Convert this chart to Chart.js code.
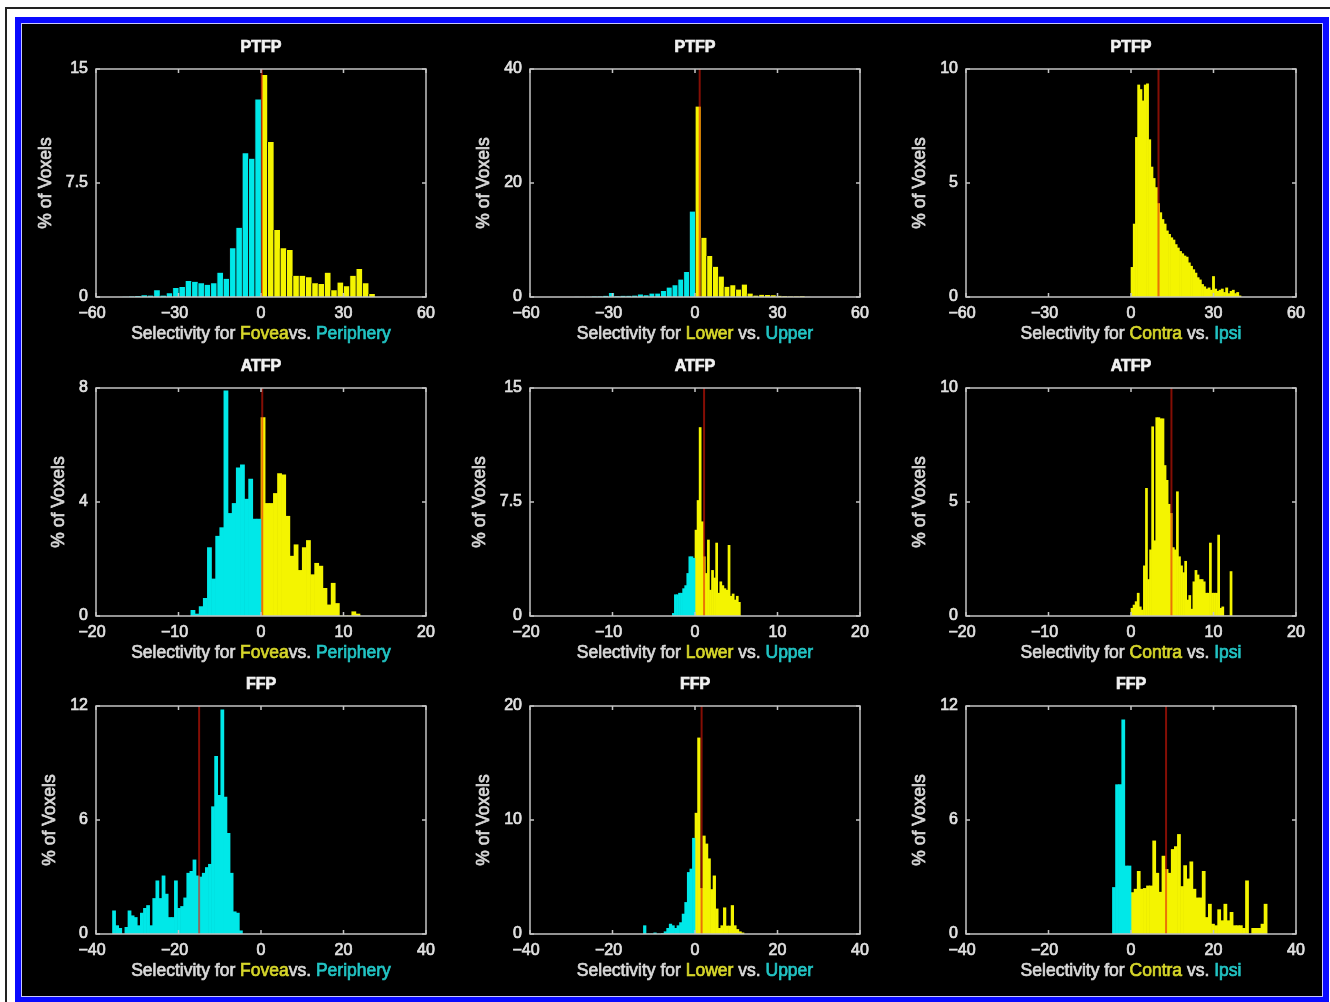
<!DOCTYPE html>
<html>
<head>
<meta charset="utf-8">
<title>Selectivity histograms</title>
<script src="https://cdn.jsdelivr.net/npm/chart.js@4.4.1/dist/chart.umd.min.js"></script>
<style>
  html, body { margin: 0; padding: 0; background: #fff; }
  #page { position: relative; width: 1330px; height: 1002px; overflow: hidden; background: #fff; }
  #rule { position: absolute; left: 5px; top: 7px; width: 1400px; height: 1100px; border: 2px solid #222; }
  #frame { position: absolute; left: 15px; top: 17px; width: 1302px; height: 974px;
           border: 6px solid #0a0aff; background: #000; box-shadow: inset 0 0 0 1px #c8c8ff; }
  canvas { position: absolute; }
</style>
</head>
<body>
<div id="page">
  <div id="rule"></div>
  <div id="frame"></div>
</div>
<script>
// ---- histogram heights (% of voxels), left to right ----
const ptfpFovea  = [0.02, 0.04, 0.07, 0.12, 0.1, 0.45, 0.1, 0.25, 0.6, 0.65, 1.05, 1.0, 0.9, 0.8, 0.9, 1.6, 1.2, 3.2, 4.55, 9.45, 9.1, 13.0,
                    14.6, 10.2, 4.4, 3.2, 3.1, 1.4, 1.4, 1.3, 0.9, 0.85, 1.6, 0.45, 0.95, 0.7, 1.4, 1.85, 0.9, 0.2];
const ptfpLower  = [0.03, 0.05, 0.05, 0.1, 0.1, 0.2, 0.7, 0.15, 0.2, 0.2, 0.25, 0.45, 0.3, 0.6, 0.6, 1.05, 1.65, 2.05, 3.05, 4.4, 15.0,
                    33.4, 10.4, 7.2, 5.3, 3.6, 1.8, 2.05, 1.3, 2.2, 0.6, 0.25, 0.4, 0.35, 0.3, 0.2, 0.15, 0.1, 0.1, 0.15, 0.05];
const ptfpContra = [1.3, 3.2, 7.0, 9.3, 9.1, 8.6, 9.3, 9.35, 6.9, 5.7, 5.2, 4.8, 4.1, 3.7, 3.4, 3.2, 2.9, 2.75, 2.6, 2.5,
                    2.3, 2.15, 2.0, 1.9, 1.8, 1.75, 1.5, 1.35, 1.2, 1.05, 0.85, 0.75, 0.55, 0.45, 0.35, 0.4, 0.3, 0.9, 0.35, 0.25,
                    0.3, 0.35, 0.2, 0.4, 0.15, 0.25, 0.3, 0.15, 0.2, 0.05];
const atfpFovea  = [0.2, 0.07, 0.33, 0.62, 2.4, 1.3, 2.8, 3.1, 7.9, 3.6, 3.95, 5.2, 5.3, 4.1, 4.8, 3.4, 3.4,
                    6.96, 3.95, 3.95, 4.3, 5.0, 4.95, 3.5, 2.1, 2.5, 1.6, 2.4, 2.65, 1.45, 1.85, 1.75, 0.97, 0.39, 1.15, 0.44,
                    0, 0, 0, 0.15, 0.07];
const atfpLower  = [0.17, 1.4, 1.4, 1.5, 1.5, 1.8, 2.0, 2.8, 3.9, 3.9, 3.8,
                    5.65, 7.6, 12.4, 6.2, 3.9, 2.8, 5.0, 1.7, 3.0, 2.5, 4.8, 1.5, 2.25, 2.0, 1.8, 1.7, 4.65, 1.3, 1.45, 1.05, 1.3, 0.9];
const atfpContra = [0.34, 0.48, 0.63, 1.0, 0.4, 0.26, 2.2, 5.6, 1.6, 2.9, 8.3, 3.3, 8.7, 8.7, 8.65, 8.65, 6.6, 5.95, 4.9, 4.5,
                    3.0, 2.9, 5.45, 2.6, 2.2, 1.9, 2.4, 0.7, 0.9, 0.3, 1.5, 2.0, 1.8, 1.6, 1.6, 1.5, 1.0, 1.0, 3.2, 1.0,
                    1.0, 1.0, 3.55, 0.34, 0.4, 0, 0, 0, 1.95];
const ffpFovea   = [1.22, 0.44, 0.3, 0, 0.35, 1.22, 0.96, 0.87, 0.44, 1.1, 1.35, 1.5, 0.44, 1.87, 2.8, 1.87, 3.06, 2.1, 0.87, 0.87,
                    2.8, 1.35, 1.45, 1.9, 3.2, 3.3, 3.9, 3.06, 3.0, 3.2, 3.5, 3.67, 6.7, 9.35, 7.3, 11.8, 7.2, 5.3, 3.2, 1.17,
                    1.1, 0.17];
const ffpLower   = [0.73, 0, 0, 0, 0.1, 0, 0, 0.05, 0.2, 0.5, 0.87, 0.73, 0.5, 0.73, 1.0, 1.75, 2.77, 5.4, 5.7, 8.4,
                    10.6, 17.2, 4.0, 8.6, 7.9, 6.6, 3.9, 5.1, 2.2, 0.5, 0.73, 2.3, 0.7, 0.7, 2.5, 0.73, 0.4, 0.2, 0.1];
const ffpContra  = [2.45, 7.86, 7.86, 11.27, 3.58, 3.58,
                    2.18, 2.36, 3.3, 2.36, 2.4, 2.53, 2.53, 4.9, 3.2, 2.2, 4.1, 3.4, 3.2, 4.45, 4.6, 5.24, 2.5, 3.6, 2.9, 3.8,
                    2.36, 1.9, 1.9, 3.3, 0.87, 1.57, 0.52, 0.44, 1.28, 0.7, 1.57, 0.7, 1.14, 0.44, 0.44, 0.44, 0.3, 2.8, 0,
                    0.3, 0.3, 0.3, 0.52, 1.57];

const histograms = [ptfpFovea, ptfpLower, ptfpContra, atfpFovea, atfpLower, atfpContra, ffpFovea, ffpLower, ffpContra];
const regionNames = ['PTFP', 'PTFP', 'PTFP', 'ATFP', 'ATFP', 'ATFP', 'FFP', 'FFP', 'FFP'];
const binStart = [-50.6, -44.1, 0, -8.5, -2.75, 0, -36, -12.5, -4.5];
const binWidth = [2.3, 2.1, 0.8, 0.5, 0.25, 0.25, 0.75, 0.625, 0.75];
const medians  = [0.3, 1.7, 10, 0.15, 1.1, 4.9, -15, 1.6, 8.5];
const xLimit   = [60, 60, 60, 20, 20, 20, 40, 40, 40];
const xStep    = [30, 30, 30, 10, 10, 10, 20, 20, 20];
const yLimit   = [15, 40, 10, 8, 15, 10, 12, 20, 12];
const yStep    = [7.5, 20, 5, 4, 7.5, 5, 6, 10, 6];

// axis label words per column: [preferred (yellow), joiner, other (cyan)]
const contrastWords = [['Fovea', 'vs. ', 'Periphery'], ['Lower', ' vs. ', 'Upper'], ['Contra', ' vs. ', 'Ipsi']];

// ---- look ----
const FONT = "'Liberation Sans', Arial, Helvetica, sans-serif";
const CYAN = '#00e8e8';
const YELLOW = '#f4f400';
const MEDIAN = 'rgba(228, 24, 8, 0.58)';
const AXIS = '#c4c4c4';
const TEXT = '#d8d8d8';
const TICK_TEXT = '#e0e0e0';
const STROKE = 0.7;   // thickens the thin canvas text a little

const colLeft = [96, 530, 966];
const rowTop = [69, 388, 706];
const PLOT_W = 330, PLOT_H = 228;
const PAD_L = 80, PAD_T = 50, PAD_R = 30, PAD_B = 60;

function heavyText(ctx, text, x, y, color) {
    ctx.fillStyle = color;
    ctx.strokeStyle = color;
    ctx.lineWidth = STROKE;
    ctx.strokeText(text, x, y);
    ctx.fillText(text, x, y);
}

/**
 * MATLAB-style box, inward ticks and the text around each panel
 */
const panelFrame = {
    id: 'panelFrame',
    afterDraw(chart, args, opts) {
        const { ctx, chartArea: a } = chart;
        const xs = chart.scales.x, ys = chart.scales.y;
        ctx.save();

        ctx.strokeStyle = AXIS;
        ctx.lineWidth = 1.5;
        ctx.strokeRect(a.left, a.top, a.width, a.height);
        ctx.beginPath();
        xs.ticks.forEach(t => {
            const p = xs.getPixelForValue(t.value);
            ctx.moveTo(p, a.top); ctx.lineTo(p, a.top + 4);
            ctx.moveTo(p, a.bottom); ctx.lineTo(p, a.bottom - 4);
        });
        ys.ticks.forEach(t => {
            const p = ys.getPixelForValue(t.value);
            ctx.moveTo(a.left, p); ctx.lineTo(a.left + 4, p);
            ctx.moveTo(a.right, p); ctx.lineTo(a.right - 4, p);
        });
        ctx.stroke();

        const cx = (a.left + a.right) / 2;

        // panel title
        ctx.font = 'bold 16px ' + FONT;
        ctx.textAlign = 'center';
        ctx.textBaseline = 'middle';
        heavyText(ctx, opts.title, cx, a.top - 21, '#f2f2f2');

        // x label in coloured pieces
        ctx.font = '17.5px ' + FONT;
        ctx.textAlign = 'left';
        const total = opts.parts.reduce((s, p) => s + ctx.measureText(p.text).width, 0);
        let x0 = cx - total / 2;
        opts.parts.forEach(p => {
            heavyText(ctx, p.text, x0, a.bottom + 37, p.color);
            x0 += ctx.measureText(p.text).width;
        });

        // y label, placed just left of the widest tick label
        ctx.font = '16px ' + FONT;
        const tw = Math.max(...ys.ticks.map(t => ctx.measureText(String(t.value)).width));
        ctx.translate(a.left - tw - 28, (a.top + a.bottom) / 2);
        ctx.rotate(-Math.PI / 2);
        ctx.font = '17.5px ' + FONT;
        ctx.textAlign = 'center';
        heavyText(ctx, '% of Voxels', 0, 0, TEXT);

        ctx.restore();
    }
};

function minusLabel(v) {
    return v < 0 ? '\u2212' + Math.abs(v) + '\u2002' : String(v);
}

function buildPanel(i) {
    const page = document.getElementById('page');
    const canvas = document.createElement('canvas');
    canvas.width = PLOT_W + PAD_L + PAD_R;
    canvas.height = PLOT_H + PAD_T + PAD_B;
    canvas.style.left = (colLeft[i % 3] - PAD_L) + 'px';
    canvas.style.top = (rowTop[Math.floor(i / 3)] - PAD_T) + 'px';
    page.appendChild(canvas);

    // bins -> centre positions
    const bins = histograms[i].map((h, k) => ({ x: binStart[i] + (k + 0.5) * binWidth[i], y: h }));
    const words = contrastWords[i % 3];
    const edge = binWidth[i] * PLOT_W / (2 * xLimit[i]) > 5 ? { left: 1, right: 0, top: 0, bottom: 0 } : 0;

    const tickFont = { family: FONT, size: 16 };

    new Chart(canvas, {
        type: 'bar',
        data: {
            datasets: [
                {
                    label: words[2],
                    data: bins.filter(b => b.x < 0),
                    backgroundColor: CYAN,
                    borderColor: '#101010',
                    borderWidth: edge,
                    order: 1
                },
                {
                    label: words[0],
                    data: bins.filter(b => b.x > 0),
                    backgroundColor: YELLOW,
                    borderColor: '#101010',
                    borderWidth: edge,
                    order: 1
                },
                {
                    type: 'line',
                    label: 'median',
                    data: [{ x: medians[i], y: 0 }, { x: medians[i], y: yLimit[i] }],
                    borderColor: MEDIAN,
                    borderWidth: 2,
                    pointRadius: 0,
                    order: 0
                }
            ]
        },
        options: {
            responsive: false,
            animation: false,
            devicePixelRatio: 1,
            layout: { padding: { left: 0, top: PAD_T, right: PAD_R, bottom: 0 } },
            datasets: {
                bar: { grouped: false, barPercentage: 1, categoryPercentage: 1 }
            },
            plugins: {
                legend: { display: false },
                tooltip: { enabled: false },
                panelFrame: {
                    title: regionNames[i],
                    parts: [
                        { text: 'Selectivity for ', color: TEXT },
                        { text: words[0], color: '#d6d62a' },
                        { text: words[1], color: TEXT },
                        { text: words[2], color: '#22c4c4' }
                    ]
                }
            },
            scales: {
                x: {
                    type: 'linear',
                    min: -xLimit[i],
                    max: xLimit[i],
                    offset: false,
                    grid: { display: false, drawTicks: false },
                    border: { display: false },
                    ticks: {
                        stepSize: xStep[i],
                        autoSkip: false,
                        maxRotation: 0,
                        padding: 7,
                        color: TICK_TEXT,
                        textStrokeColor: TICK_TEXT,
                        textStrokeWidth: STROKE,
                        font: tickFont,
                        callback: minusLabel
                    },
                    afterFit: s => { s.height = PAD_B; }
                },
                y: {
                    min: 0,
                    max: yLimit[i],
                    grid: { display: false, drawTicks: false },
                    border: { display: false },
                    ticks: {
                        stepSize: yStep[i],
                        autoSkip: false,
                        padding: 8,
                        color: TICK_TEXT,
                        textStrokeColor: TICK_TEXT,
                        textStrokeWidth: STROKE,
                        font: tickFont,
                        callback: v => String(v)
                    },
                    afterFit: s => { s.width = PAD_L; }
                }
            }
        },
        plugins: [panelFrame]
    });
}

for (let i = 0; i < 9; i++) buildPanel(i);
</script>
</body>
</html>
